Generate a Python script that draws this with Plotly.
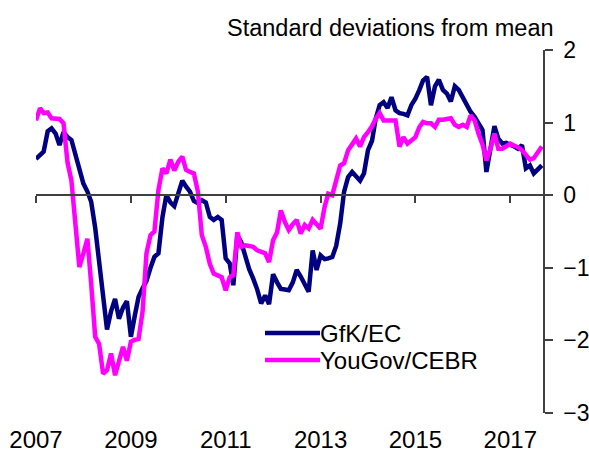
import pandas as pd
import plotly.graph_objects as go

months = pd.date_range("2007-01-01", "2017-09-01", freq="MS")

gfk_ec = [
    0.50, 0.55, 0.60, 0.88, 0.92, 0.85, 0.69, 0.87, 0.80, 0.76, 0.57, 0.35,   # 2007
    0.16, 0.05, -0.09, -0.45, -0.90, -1.35, -1.85, -1.60, -1.43, -1.70, -1.55, -1.46,  # 2008
    -1.95, -1.65, -1.40, -1.28, -1.18, -1.00, -0.85, -0.80, -0.30, 0.00, -0.10, -0.15,  # 2009
    0.02, 0.20, 0.12, 0.05, -0.08, -0.11, -0.07, -0.10, -0.30, -0.34, -0.30, -0.34,  # 2010
    -0.87, -0.94, -1.24, -0.55, -0.65, -0.85, -1.02, -1.15, -1.30, -1.49, -1.38, -1.50,  # 2011
    -1.09, -1.20, -1.29, -1.30, -1.31, -1.20, -1.03, -1.12, -1.22, -1.33, -0.76, -1.03,  # 2012
    -0.83, -0.88, -0.87, -0.85, -0.70, -0.39, 0.05, 0.25, 0.32, 0.25, 0.20, 0.30,  # 2013
    0.62, 0.75, 1.05, 1.24, 1.28, 1.20, 1.35, 1.17, 1.13, 1.12, 1.10, 1.24,  # 2014
    1.33, 1.45, 1.58, 1.63, 1.24, 1.50, 1.59, 1.45, 1.40, 1.29, 1.50, 1.45,  # 2015
    1.35, 1.24, 1.15, 1.08, 1.00, 0.90, 0.32, 0.60, 0.95, 0.78, 0.71, 0.72,  # 2016
    0.70, 0.67, 0.64, 0.69, 0.37, 0.41, 0.30, 0.36, 0.41,  # 2017
]

yougov_cebr = [
    1.03, 1.20, 1.13, 1.14, 1.06, 1.05, 1.05, 0.99, 0.45, 0.20, -0.39, -0.99,  # 2007
    -0.80, -0.60, -1.22, -1.95, -2.05, -2.46, -2.41, -2.18, -2.48, -2.30, -2.09, -2.28,  # 2008
    -2.02, -1.99, -1.98, -1.60, -0.80, -0.55, -0.50, 0.07, 0.37, 0.30, 0.49, 0.34,  # 2009
    0.46, 0.53, 0.35, 0.32, 0.30, 0.05, -0.55, -0.71, -0.95, -1.08, -1.10, -1.13,  # 2010
    -1.31, -1.13, -1.10, -0.51, -0.71, -0.69, -0.70, -0.71, -0.76, -0.78, -0.80, -0.92,  # 2011
    -0.62, -0.51, -0.21, -0.37, -0.48, -0.40, -0.34, -0.53, -0.41, -0.46, -0.34, -0.40,  # 2012
    -0.46, -0.16, 0.02, 0.00, 0.21, 0.41, 0.44, 0.62, 0.70, 0.78, 0.67, 0.80,  # 2013
    0.87, 0.95, 1.05, 1.13, 1.03, 1.03, 1.03, 1.03, 0.67, 0.80, 0.71, 0.75,  # 2014
    0.80, 0.94, 1.01, 0.99, 0.99, 0.94, 1.04, 1.04, 1.05, 1.06, 0.97, 0.94,  # 2015
    0.97, 0.94, 1.10, 1.03, 0.85, 0.70, 0.48, 0.64, 0.85, 0.64, 0.64, 0.67,  # 2016
    0.71, 0.68, 0.66, 0.62, 0.55, 0.49, 0.51, 0.58, 0.67,  # 2017
]

series_names = ["GfK/EC", "YouGov/CEBR"]
series_colors = ["#000080", "#FF00FF"]
y_title = "Standard deviations from mean"
x_range = ["2007-01-01", "2017-09-10"]

FONT = "Liberation Sans, Arial, sans-serif"
FS = 24
AX = "#404040"

# plot area in pixels (for placing the legend/title in paper units)
L, R, T, B = 36, 46, 50, 40
W, H = 589, 453
PW, PH = W - L - R, H - T - B


def px_x(p):
    return (p - L) / PW


def px_y(p):
    return (H - B - p) / PH


fig = go.Figure()
for name, vals, col in zip(series_names, [gfk_ec, yougov_cebr], series_colors):
    fig.add_trace(go.Scatter(x=months, y=vals, name=name, mode="lines",
                             line=dict(color=col, width=4.5), showlegend=False))

# carrier trace so the zero-anchored axis (with tick marks) is drawn
fig.add_trace(go.Scatter(x=x_range, y=[0, 0], xaxis="x2", mode="lines",
                         line=dict(width=0), showlegend=False, hoverinfo="skip"))

shapes = []
annotations = [dict(text=y_title, xref="paper", yref="paper",
                    x=px_x(556), y=px_y(28), xanchor="right", yanchor="middle",
                    showarrow=False, font=dict(size=23.5))]
legend_rows = [333, 360]
for name, col, ry in zip(series_names, series_colors, legend_rows):
    shapes.append(dict(type="line", xref="paper", yref="paper",
                       x0=px_x(265), x1=px_x(320), y0=px_y(ry), y1=px_y(ry),
                       line=dict(color=col, width=4.5)))
    annotations.append(dict(text=name, xref="paper", yref="paper",
                            x=px_x(318), y=px_y(ry), xanchor="left", yanchor="middle",
                            showarrow=False, font=dict(size=FS)))

fig.update_layout(
    width=W, height=H,
    margin=dict(l=L, r=R, t=T, b=B, autoexpand=False),
    paper_bgcolor="white", plot_bgcolor="white",
    font=dict(family=FONT, size=FS, color="black"),
    showlegend=False,
    xaxis=dict(type="date", range=x_range, dtick="M24", tick0="2007-01-01",
               tickformat="%Y", showline=False, showgrid=False, zeroline=False,
               ticks="outside", ticklen=5, tickcolor="rgba(0,0,0,0)",
               tickfont=dict(size=FS), automargin=False),
    xaxis2=dict(type="date", range=x_range, dtick="M24", tick0="2007-01-01",
                overlaying="x", anchor="free", position=0.6,
                showline=True, linecolor=AX, linewidth=1.5,
                ticks="outside", ticklen=7, tickcolor=AX, tickwidth=1.5,
                showticklabels=False, showgrid=False, zeroline=False,
                automargin=False),
    yaxis=dict(side="right", range=[-3, 2], dtick=1, showgrid=False,
               zeroline=False, showline=True, linecolor=AX, linewidth=1.5,
               ticks="outside", ticklen=8, tickcolor=AX, tickwidth=1.5,
               ticklabelstandoff=6, tickfont=dict(size=23), automargin=False),
    shapes=shapes,
    annotations=annotations,
)

fig.write_html("out.html", config={"displayModeBar": False},
               post_script="document.body.style.margin='0';document.body.style.overflow='hidden';")
